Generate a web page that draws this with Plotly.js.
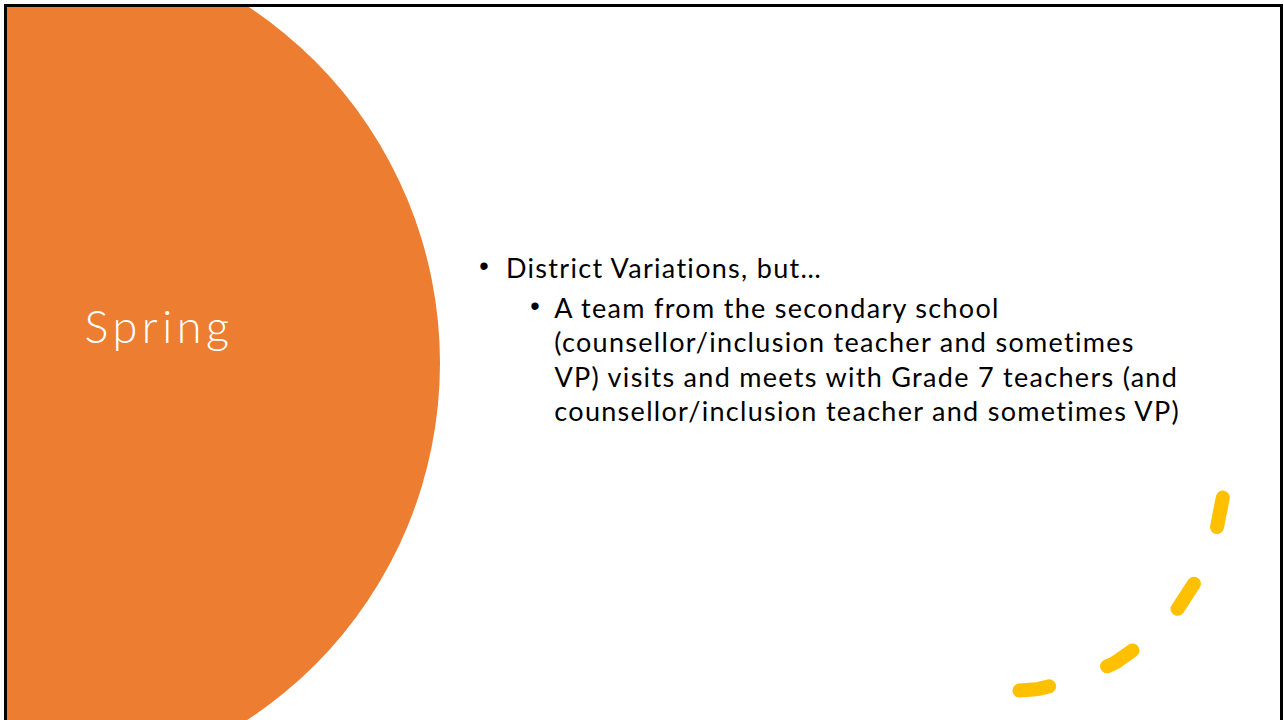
<!DOCTYPE html>
<html>
<head>
<meta charset="utf-8">
<script src="https://cdn.plot.ly/plotly-3.0.1.min.js"></script>
<style>
  html, body { margin: 0; padding: 0; background: #ffffff; }
  #chart { width: 1284px; height: 720px; }
</style>
</head>
<body>
<div id="chart"></div>
<script>
// ---- slide content ----
var titleText = 'Spring';
var bulletLevels = [1, 2, 0, 0, 0];   // 1 = first level bullet, 2 = sub bullet, 0 = wrapped continuation
var bulletLines = [
  'District Variations, but…',
  'A team from the secondary school',
  '(counsellor/inclusion teacher and sometimes',
  'VP) visits and meets with Grade 7 teachers (and',
  'counsellor/inclusion teacher and sometimes VP)'
];
var lineCentersY = [267, 307, 341, 376, 410];

// ---- page geometry (pixels) ----
var W = 1284, H = 720;
var textX = {1: 505, 2: 553, 0: 553};
var bulletX = {1: 484, 2: 535};
var TITLE_LS = 4.5, BODY_LS = 1.3;   // letter spacing (px)

var circle = {cx: 13, cy: 363, r: 427};
var arc = {cx: 1008, cy: 475, r: 216, a0: 6, a1: 88, n: 120};

var ORANGE = '#ED7D31';
var YELLOW = '#FFC000';
var BODY_FONT = 'Lato, "Open Sans", sans-serif';

// style sheet for letter spacing
var css = document.createElement('style');
css.textContent = '.annotation text { letter-spacing: ' + BODY_LS + 'px; }' +
  '.annotation[data-index="0"] text { letter-spacing: ' + TITLE_LS + 'px; }';
document.head.appendChild(css);

// arc points (decorative dashed quarter ring)
var arcX = [], arcY = [];
for (var i = 0; i <= arc.n; i++) {
  var a = (arc.a0 + (arc.a1 - arc.a0) * i / arc.n) * Math.PI / 180;
  arcX.push(arc.cx + arc.r * Math.cos(a));
  arcY.push(arc.cy + arc.r * Math.sin(a));
}

var traces = [{
  type: 'scatter', mode: 'lines', x: arcX, y: arcY,
  line: {color: YELLOW, width: 14, dash: '30px,61.6px'},
  hoverinfo: 'skip', showlegend: false
}];

var shapes = [
  {type: 'circle', xref: 'x', yref: 'y', layer: 'below',
   x0: circle.cx - circle.r, x1: circle.cx + circle.r,
   y0: circle.cy - circle.r, y1: circle.cy + circle.r,
   fillcolor: ORANGE, line: {width: 0}},
  // white outside the slide frame
  {type: 'rect', xref: 'x', yref: 'y', layer: 'below', x0: 0, x1: 4, y0: 0, y1: H, fillcolor: '#ffffff', line: {width: 0}},
  {type: 'rect', xref: 'x', yref: 'y', layer: 'below', x0: 0, x1: W, y0: 0, y1: 4, fillcolor: '#ffffff', line: {width: 0}},
  // slide frame
  {type: 'rect', xref: 'x', yref: 'y', layer: 'below', x0: 5.5, x1: 1281.5, y0: 5.5, y1: H + 20,
   fillcolor: 'rgba(0,0,0,0)', line: {color: '#000000', width: 3}}
];

// annotations are centred on their measured box, so shift by half the added spacing
var annotations = [{
  x: 83 + TITLE_LS * titleText.length / 2, y: 326, xref: 'x', yref: 'y', xanchor: 'left', yanchor: 'middle',
  text: titleText, showarrow: false, borderpad: 0,
  font: {family: BODY_FONT, size: 45, color: '#ffffff', weight: 300}
}];

bulletLines.forEach(function (t, k) {
  var lvl = bulletLevels[k];
  annotations.push({
    x: textX[lvl] + BODY_LS * t.length / 2, y: lineCentersY[k], xref: 'x', yref: 'y', xanchor: 'left', yanchor: 'middle',
    text: t, showarrow: false, borderpad: 0,
    font: {family: BODY_FONT, size: 27, color: '#000000'}
  });
  if (lvl > 0) {
    annotations.push({
      x: bulletX[lvl], y: lineCentersY[k] - 1, xref: 'x', yref: 'y', xanchor: 'center', yanchor: 'middle',
      text: '•', showarrow: false, borderpad: 0,
      font: {family: 'Arial, "Liberation Sans", sans-serif', size: 27, color: '#000000'}
    });
  }
});

var layout = {
  width: W, height: H,
  margin: {l: 0, r: 0, t: 0, b: 0, pad: 0},
  paper_bgcolor: '#ffffff', plot_bgcolor: '#ffffff',
  xaxis: {range: [0, W], visible: false, fixedrange: true},
  yaxis: {range: [H, 0], visible: false, fixedrange: true},
  shapes: shapes,
  annotations: annotations,
  showlegend: false
};

Plotly.newPlot('chart', traces, layout, {displayModeBar: false, staticPlot: true}).then(function (gd) {
  gd.querySelectorAll('.scatterlayer .js-line').forEach(function (p) {
    p.style.setProperty('stroke-linecap', 'round', 'important');
  });
});
</script>
</body>
</html>
